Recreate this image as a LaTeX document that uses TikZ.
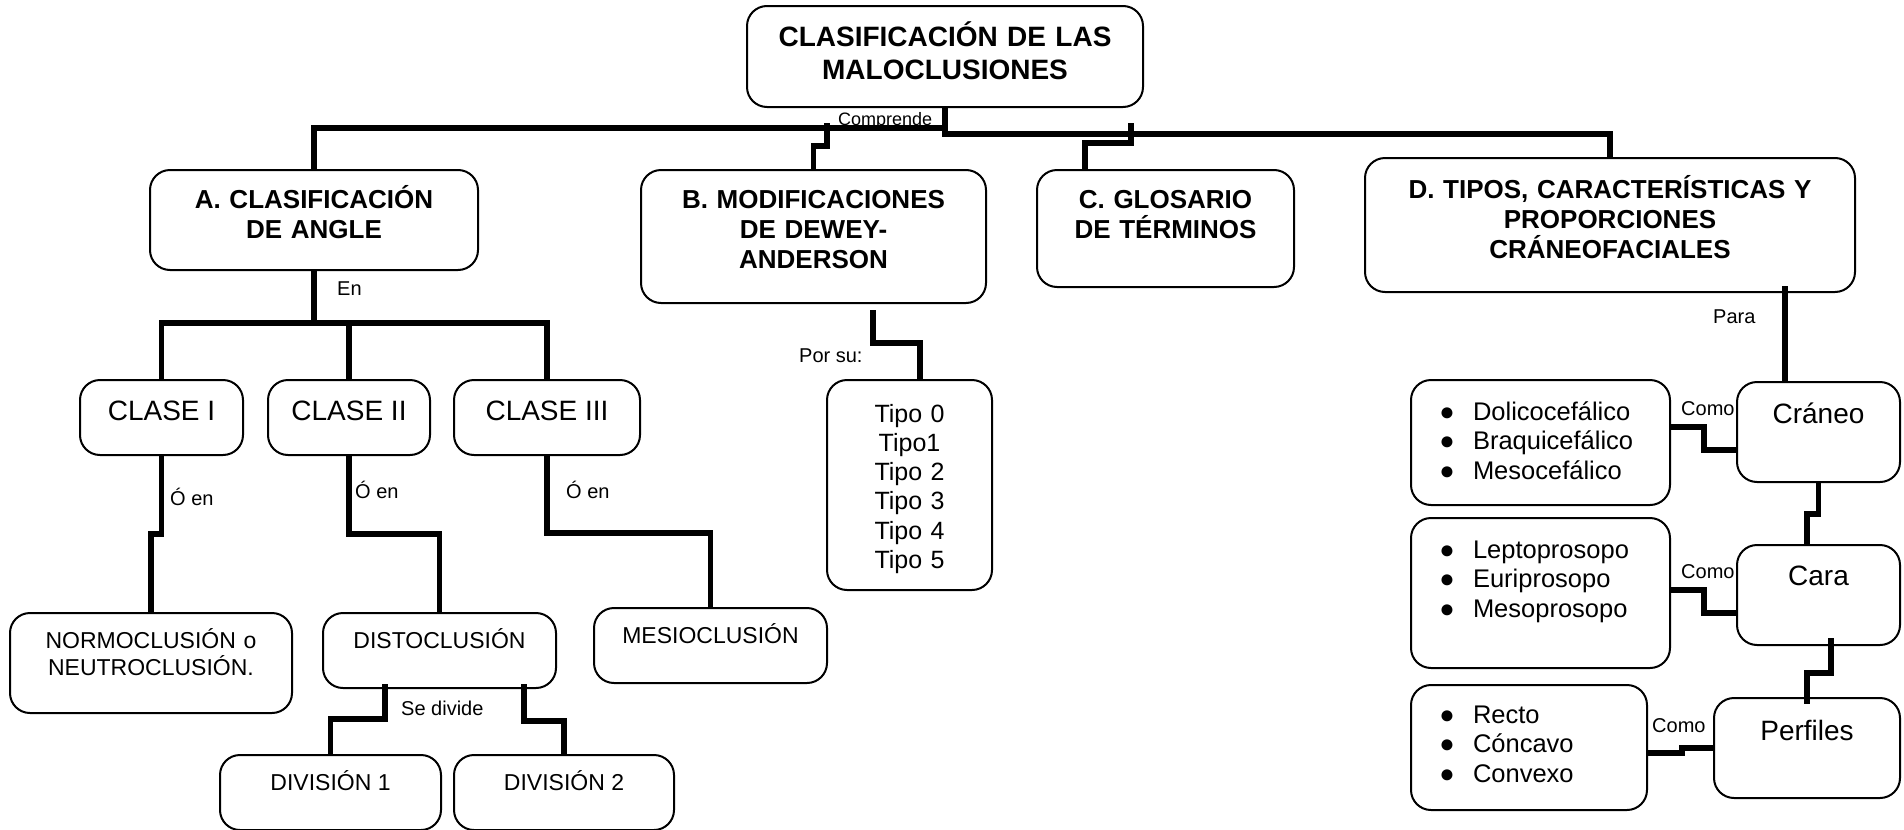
\documentclass[tikz,border=0pt]{standalone}
\usepackage{fontspec}
\setmainfont{Liberation Sans}
\newcommand{\itm}[1]{\makebox[52pt][c]{●}#1}

\begin{document}
\begin{tikzpicture}[
	x=1pt, y=-1pt,
	box/.style={draw, line width=2pt, rounded corners=20pt, inner sep=0pt, align=center},
	conn/.style={line width=5.5pt},
	lbl/.style={anchor=base west, inner sep=0pt, font=\fontsize{20}{24}\selectfont},
	drop/.style={text height=0pt, text depth=#1},
	head/.style={font=\fontsize{26}{30}\selectfont\bfseries},
	small/.style={font=\fontsize{23}{27}\selectfont},
	big/.style={font=\fontsize{28}{33}\selectfont},
	list/.style={box, align=left, inner xsep=10pt, font=\fontsize{25.5}{29.5}\selectfont}
]
	\useasboundingbox (0,0) rectangle (1904,830);

	\node [box,minimum width=396pt,text width=390pt,minimum height=101pt,drop=20pt,font=\fontsize{28}{33}\selectfont\bfseries] (clasif) at (945,56.5) {CLASIFICACIÓN DE LAS\\MALOCLUSIONES};
	\node [box,head,minimum width=328pt,text width=320pt,minimum height=100pt,drop=24pt]  (angle)    at (314,220)    {A. CLASIFICACIÓN\\DE ANGLE};
	\node [box,head,minimum width=345pt,text width=335pt,minimum height=133pt,drop=57pt]  (dewey)    at (813.5,236.5) {B. MODIFICACIONES\\DE DEWEY-\\ANDERSON};
	\node [box,head,minimum width=257pt,text width=250pt,minimum height=117pt,drop=41pt]  (glosario) at (1165.5,228.5) {C. GLOSARIO\\DE TÉRMINOS};
	\node [box,head,minimum width=490pt,text width=480pt,minimum height=134pt,drop=54pt]  (tipos)    at (1610,225)   {D. TIPOS, CARACTERÍSTICAS Y\\PROPORCIONES\\CRÁNEOFACIALES};

	\node [box,big,minimum width=163pt,minimum height=75pt,text height=5pt,text depth=0pt] (clasei)   at (161.5,417.5) {CLASE I};
	\node [box,big,minimum width=162pt,minimum height=75pt,text height=5pt,text depth=0pt] (claseii)  at (349,417.5)   {CLASE II};
	\node [box,big,minimum width=186pt,minimum height=75pt,text height=5pt,text depth=0pt] (claseiii) at (547,417.5)   {CLASE III};

	\node [box,small,minimum width=282pt,text width=276pt,minimum height=100pt,drop=30pt] (normo) at (151,663) {NORMOCLUSIÓN o\\NEUTROCLUSIÓN.};
	\node [box,small,minimum width=233pt,minimum height=75pt,drop=5pt]   (disto) at (439.5,650.5) {DISTOCLUSIÓN};
	\node [box,small,minimum width=233pt,minimum height=75pt,drop=5pt]   (mesio) at (710.5,645.5) {MESIOCLUSIÓN};
	\node [box,small,minimum width=221pt,minimum height=75pt,drop=5pt]   (divi)  at (330.5,792.5) {DIVISIÓN 1};
	\node [box,small,minimum width=220pt,minimum height=75pt,drop=5pt]   (divii) at (564,792.5)   {DIVISIÓN 2};

	\node [box,minimum width=165pt,text width=160pt,minimum height=210pt,drop=126pt,font=\fontsize{25}{29.3}\selectfont] (tipo) at (909.5,485) {Tipo 0\\Tipo1\\Tipo 2\\Tipo 3\\Tipo 4\\Tipo 5};

	\node [box,big,minimum width=163pt,minimum height=100pt,drop=18pt] (craneo)   at (1818.5,432) {Cráneo};
	\node [box,big,minimum width=163pt,minimum height=100pt,drop=20pt] (cara)     at (1818.5,595) {Cara};
	\node [box,big,minimum width=186pt,minimum height=100pt,drop=16pt] (perfiles) at (1807,748)   {Perfiles};

	\node [list,text width=239pt,minimum height=125pt,drop=45pt] (lcraneo)   at (1540.5,442.5) {\itm{Dolicocefálico}\\\itm{Braquicefálico}\\\itm{Mesocefálico}};
	\node [list,text width=239pt,minimum height=150pt,drop=70pt] (lcara)     at (1540.5,593)   {\itm{Leptoprosopo}\\\itm{Euriprosopo}\\\itm{Mesoprosopo}};
	\node [list,text width=216pt,minimum height=125pt,drop=49pt] (lperfiles) at (1529,747.5)   {\itm{Recto}\\\itm{Cóncavo}\\\itm{Convexo}};

	\node [lbl,font=\fontsize{18}{22}\selectfont] (comprende) at (838,125) {Comprende};
	\node [lbl] (en)     at (337,295)  {En};
	\node [lbl] (oeni)   at (170,505)  {Ó en};
	\node [lbl] (oenii)  at (355,498)  {Ó en};
	\node [lbl] (oeniii) at (566,498)  {Ó en};
	\node [lbl] (divide) at (401,715)  {Se divide};
	\node [lbl] (porsu)  at (799,362)  {Por su:};
	\node [lbl] (para)   at (1713,323) {Para};
	\node [lbl] (comoi)   at (1681,415) {Como};
	\node [lbl] (comoii)  at (1681,578) {Como};
	\node [lbl] (comoiii) at (1652,732) {Como};

	\coordinate (busl) at (945,128);
	\coordinate (busa) at (314,323);
	\coordinate (free) at (873,310);

	\draw [conn] (clasif.south) -- ++(0,26) -| (tipos.north);
	\draw [conn] (angle.north) |- (busl);
	\draw [conn] (dewey.north) |- (827,146) -- (827,123);
	\draw [conn] ([xshift=-80.5pt]glosario.north) |- (1131,143) -- (1131,123);

	\draw [conn] (angle.south) -- (busa);
	\draw [conn] (clasei.north) |- (claseiii.north |- busa) -- (claseiii.north);
	\draw [conn] (claseii.north) -- (claseii.north |- busa);

	\draw [conn] (clasei.south) -- ++(0,78) -| (normo.north);
	\draw [conn] (claseii.south) -- ++(0,78) -| (disto.north);
	\draw [conn] (claseiii.south) -- ++(0,77) -| (mesio.north);
	\draw [conn] ([xshift=-54.5pt,yshift=5pt]disto.south) -- ++(0,35) -| (divi.north);
	\draw [conn] ([xshift=84.5pt,yshift=5pt]disto.south) -- ++(0,37) -| (divii.north);

	\draw [conn] (free) -- ++(0,33) -| ([xshift=10.5pt]tipo.north);

	\draw [conn] ([xshift=-33.5pt]craneo.north) -- ++(0,-95);
	\draw [conn] ([yshift=15.5pt]lcraneo.east) -- ++(33,0) |- ([yshift=-18pt]craneo.west);
	\draw [conn] (craneo.south) -- ++(0,31) -| ([xshift=-11.5pt]cara.north);
	\draw [conn] ([yshift=3pt]lcara.east) -- ++(33,0) |- ([yshift=-18pt]cara.west);
	\draw [conn] ([xshift=12.5pt,yshift=8pt]cara.south) -- ++(0,35) -| ([yshift=-7pt]perfiles.north);
	\draw [conn] ([yshift=-5.5pt]lperfiles.east) -- ++(34,0) |- (perfiles.west);
\end{tikzpicture}
\end{document}
